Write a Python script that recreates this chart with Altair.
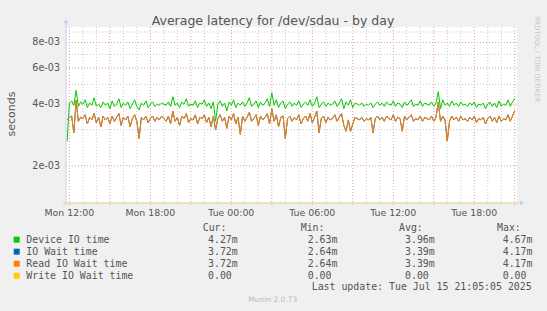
import altair as alt
import pandas as pd

# ---------------- data ----------------
START = "2025-07-14 11:50:00"   # first sample, 10-minute steps

device_io_ms = [
    2.63, 4.05, 4.15, 3.95, 4.67, 3.90, 4.10, 4.00, 4.20, 3.85, 4.05, 3.95, 4.30, 3.90, 4.00, 3.85, 4.10, 3.95, 4.05, 3.80,
    4.15, 3.90, 4.00, 4.25, 3.85, 4.05, 3.95, 4.10, 3.80, 4.00, 4.20, 3.90, 3.75, 4.05, 3.95, 4.15, 3.85, 4.00, 4.10, 3.90,
    4.00, 3.95, 4.05, 4.00, 3.95, 4.10, 3.90, 4.35, 3.95, 4.05, 3.85, 4.10, 4.00, 4.25, 3.90, 4.00, 3.95, 4.15, 3.85, 4.05,
    4.00, 4.20, 3.90, 4.05, 3.80, 4.10, 3.30, 4.00, 4.15, 3.90, 4.05, 3.70, 4.10, 3.95, 4.20, 3.85, 4.05, 3.95, 4.10, 3.90,
    4.05, 4.30, 3.90, 4.00, 4.15, 3.85, 4.10, 3.95, 4.05, 4.25, 3.90, 4.55, 3.95, 4.20, 3.85, 4.05, 4.15, 3.80, 4.00, 4.10,
    3.90, 4.05, 3.95, 4.15, 3.85, 4.00, 4.10, 3.95, 4.20, 3.90, 4.05, 4.35, 3.85, 4.00, 4.10, 3.90, 4.05, 3.95, 4.00, 4.15,
    3.90, 4.05, 4.25, 3.80, 4.10, 3.95, 4.20, 3.85, 4.05, 4.00, 3.95, 4.05, 3.90, 4.00, 3.95, 4.05, 3.85, 4.00, 4.10, 3.95,
    4.05, 3.90, 4.10, 4.00, 3.95, 4.15, 3.90, 4.05, 4.00, 3.85, 4.10, 3.95, 4.05, 4.20, 3.90, 4.00, 3.95, 4.15, 3.90, 4.05,
    4.00, 3.95, 4.10, 3.90, 4.05, 4.60, 3.80, 4.20, 3.95, 4.05, 3.90, 4.15, 3.95, 4.05, 3.90, 4.10, 3.95, 4.00, 3.90, 4.05,
    3.95, 4.10, 3.85, 4.00, 3.95, 4.05, 3.80, 4.00, 4.10, 3.90, 4.05, 3.85, 4.15, 3.90, 4.00, 3.95, 4.20, 3.90, 4.10, 4.27,
]

read_io_ms = [
    3.35, 3.45, 3.50, 2.90, 4.17, 3.30, 3.45, 3.40, 3.55, 3.20, 3.45, 3.35, 3.60, 3.25, 3.45, 3.10, 3.50, 3.35, 3.45, 3.20,
    3.50, 3.30, 3.45, 3.60, 3.15, 3.45, 3.35, 3.50, 3.10, 3.40, 3.55, 3.30, 2.72, 3.45, 3.35, 3.50, 3.25, 3.40, 3.50, 3.30,
    3.45, 3.35, 3.50, 3.40, 3.30, 3.50, 3.20, 3.70, 3.30, 3.45, 3.15, 3.50, 3.40, 3.60, 3.25, 3.40, 3.35, 3.55, 3.20, 3.45,
    3.40, 3.55, 3.25, 3.45, 3.10, 3.50, 3.00, 3.40, 3.55, 3.30, 3.45, 3.05, 3.50, 3.35, 3.60, 3.20, 3.45, 2.85, 3.50, 3.30,
    3.45, 3.65, 3.30, 3.40, 3.55, 3.15, 3.50, 3.35, 3.45, 3.60, 3.20, 3.80, 3.30, 3.55, 3.10, 3.45, 3.50, 2.72, 3.40, 3.50,
    3.30, 3.45, 3.35, 3.55, 3.20, 3.40, 3.50, 3.30, 3.60, 3.25, 3.45, 3.70, 2.90, 3.40, 3.50, 3.25, 3.45, 3.35, 3.40, 3.55,
    3.30, 3.45, 3.60, 3.15, 2.95, 3.35, 2.95, 3.20, 3.45, 3.40, 3.35, 3.45, 3.30, 3.40, 3.35, 3.45, 2.90, 3.40, 3.50, 3.35,
    3.45, 3.30, 3.50, 3.40, 3.35, 3.55, 3.30, 3.45, 3.40, 2.95, 3.50, 3.35, 3.45, 3.55, 3.30, 3.40, 3.35, 3.50, 3.30, 3.45,
    3.40, 3.35, 3.50, 3.30, 3.45, 4.10, 3.30, 3.50, 3.35, 2.64, 3.30, 3.50, 3.35, 3.45, 3.30, 3.50, 3.35, 3.40, 3.30, 3.45,
    3.35, 3.50, 3.25, 3.40, 3.35, 3.45, 3.20, 3.40, 3.50, 3.30, 3.45, 3.25, 3.50, 3.30, 3.40, 3.35, 3.55, 3.30, 3.50, 3.72,
]

io_wait_ms = list(read_io_ms)   # identical to Read IO Wait time

legend_labels = ["Device IO time", "IO Wait time", "Read IO Wait time", "Write IO Wait time"]
legend_colors = ["#00cc00", "#0066b3", "#ff8000", "#ffcc00"]
cur_vals = ["4.27m", "3.72m", "3.72m", "0.00"]
min_vals = ["2.63m", "2.64m", "2.64m", "0.00"]
avg_vals = ["3.96m", "3.39m", "3.39m", "0.00"]
max_vals = ["4.67m", "4.17m", "4.17m", "0.00"]
col_headers = ["Cur:", "Min:", "Avg:", "Max:"]

y_tick_values = [0.002, 0.004, 0.006, 0.008]
y_tick_labels = ["2e-03", "4e-03", "6e-03", "8e-03"]
y_minor_values = [0.003, 0.005, 0.007, 0.009]

x_label_times = ["2025-07-14T12:00:00Z", "2025-07-14T18:00:00Z", "2025-07-15T00:00:00Z",
                 "2025-07-15T06:00:00Z", "2025-07-15T12:00:00Z", "2025-07-15T18:00:00Z"]
x_labels = ["Mon 12:00", "Mon 18:00", "Tue 00:00", "Tue 06:00", "Tue 12:00", "Tue 18:00"]

title_text = "Average latency for /dev/sdau - by day"
last_update = "Last update: Tue Jul 15 21:05:05 2025"
version_text = "Munin 2.0.73"
side_text = "RRDTOOL / TOBI OETIKER"

# ---------------- build tables ----------------
times = pd.date_range(START, periods=len(device_io_ms), freq="10min").strftime("%Y-%m-%dT%H:%M:%SZ")
df_dev = pd.DataFrame({"t": times, "v": [x / 1000 for x in device_io_ms]})
df_wait = pd.DataFrame({"t": times, "v": [x / 1000 for x in io_wait_ms]})
df_read = pd.DataFrame({"t": times, "v": [x / 1000 for x in read_io_ms]})

hours = pd.date_range("2025-07-14 12:00", "2025-07-15 21:00", freq="1h")
df_vmin = pd.DataFrame({"t": [h.strftime("%Y-%m-%dT%H:%M:%SZ") for h in hours if h.hour % 3 != 0]})
df_vmaj = pd.DataFrame({"t": [h.strftime("%Y-%m-%dT%H:%M:%SZ") for h in hours if h.hour % 3 == 0]})
df_hmaj = pd.DataFrame({"v": y_tick_values, "lab": y_tick_labels})
df_hmin = pd.DataFrame({"v": y_minor_values})
df_xlab = pd.DataFrame({"t": x_label_times, "lab": x_labels})
one = pd.DataFrame({"k": [0]})

W, H = 451, 176
FONT = "DejaVu Sans"
MONO = "DejaVu Sans Mono"
TXT = "#555555"

xs = alt.Scale(type="utc",
               domain=[alt.DateTime(year=2025, month=7, date=14, hours=11, minutes=45, utc=True),
                       alt.DateTime(year=2025, month=7, date=15, hours=21, minutes=10, utc=True)])
ys = alt.Scale(type="log", domain=[0.001317, 0.00952], nice=False)

X = alt.X("t:T", scale=xs, axis=None, title=None)
Y = alt.Y("v:Q", scale=ys, axis=None, title=None)

layers = []
# grid
layers.append(alt.Chart(df_hmin).mark_rule(color="#c8c8c8", strokeDash=[1, 2], strokeWidth=1)
              .encode(y=Y))
layers.append(alt.Chart(df_vmin).mark_rule(color="#c8c8c8", strokeDash=[1, 2], strokeWidth=1)
              .encode(x=X))
layers.append(alt.Chart(df_hmaj).mark_rule(color="#e69a9a", strokeDash=[1, 2], strokeWidth=1)
              .encode(y=Y))
layers.append(alt.Chart(df_vmaj).mark_rule(color="#e69a9a", strokeDash=[1, 2], strokeWidth=1)
              .encode(x=X, y=alt.value(0), y2=alt.value(H + 3)))

# series
layers.append(alt.Chart(df_dev).mark_line(color="#00cc00", strokeWidth=1, clip=True).encode(x=X, y=Y))
layers.append(alt.Chart(df_wait).mark_line(color="#0066b3", strokeWidth=1, clip=True).encode(x=X, y=Y))
layers.append(alt.Chart(df_read).mark_line(color="#ff8000", strokeWidth=1, opacity=1, clip=True).encode(x=X, y=Y))

# axes lines + arrows
layers.append(alt.Chart(one).mark_rule(color="#d8cc8a", strokeWidth=1)
              .encode(x=alt.value(-3), x2=alt.value(W + 2), y=alt.value(H)))
layers.append(alt.Chart(one).mark_rule(color="#ccd0ee", strokeWidth=1)
              .encode(x=alt.value(0), y=alt.value(-4), y2=alt.value(H + 3)))
layers.append(alt.Chart(one).mark_point(shape="triangle-up", filled=True, size=22, color="#c4ccf4", opacity=1)
              .encode(x=alt.value(0), y=alt.value(-6)))
layers.append(alt.Chart(one).mark_point(shape="triangle-right", filled=True, size=22, color="#c4ccf4", opacity=1)
              .encode(x=alt.value(W + 5), y=alt.value(H)))

# tick labels
layers.append(alt.Chart(df_hmaj).mark_text(align="right", baseline="middle", font=FONT, fontSize=9.6, color=TXT)
              .encode(y=Y, x=alt.value(-6), text="lab:N"))
layers.append(alt.Chart(df_xlab).mark_text(align="center", baseline="middle", font=FONT, fontSize=9.4, color=TXT)
              .encode(x=X, y=alt.value(H + 9.5), text="lab:N"))

# titles
layers.append(alt.Chart(one).mark_text(text=title_text, align="center", baseline="middle", font=FONT,
                                       fontSize=12.5, color=TXT)
              .encode(x=alt.value(207), y=alt.value(-6)))
layers.append(alt.Chart(one).mark_text(text="seconds", align="center", baseline="middle", font=FONT,
                                       fontSize=11, color=TXT, angle=270)
              .encode(x=alt.value(-54.5), y=alt.value(87)))
layers.append(alt.Chart(one).mark_text(text=side_text, align="center", baseline="middle", font=FONT,
                                       fontSize=6.7, color="#c4c4c4", angle=90)
              .encode(x=alt.value(471), y=alt.value(32)))

# legend
row_y = [212.7, 224.7, 236.7, 248.7]
val_x = [142, 241.7, 339, 436.7]
hdr_x = [136.7, 234.7, 333, 431]
for hx, h in zip(hdr_x, col_headers):
    layers.append(alt.Chart(one).mark_text(text=h, align="left", baseline="middle", font=MONO,
                                           fontSize=9.9, color=TXT)
                  .encode(x=alt.value(hx), y=alt.value(200.7)))
for i, lab in enumerate(legend_labels):
    yy = row_y[i]
    layers.append(alt.Chart(one).mark_square(size=36, color=legend_colors[i], opacity=1)
                  .encode(x=alt.value(-49.3), y=alt.value(yy)))
    layers.append(alt.Chart(one).mark_text(text=lab, align="left", baseline="middle", font=MONO,
                                           fontSize=9.9, color=TXT)
                  .encode(x=alt.value(-39.7), y=alt.value(yy)))
    for vx, vals in zip(val_x, [cur_vals, min_vals, avg_vals, max_vals]):
        layers.append(alt.Chart(one).mark_text(text=vals[i], align="left", baseline="middle", font=MONO,
                                               fontSize=9.9, color=TXT)
                      .encode(x=alt.value(vx), y=alt.value(yy)))

layers.append(alt.Chart(one).mark_text(text=last_update, align="left", baseline="middle", font=MONO,
                                       fontSize=9.9, color=TXT)
              .encode(x=alt.value(245.7), y=alt.value(260.3)))
layers.append(alt.Chart(one).mark_text(text=version_text, align="center", baseline="middle", font=FONT,
                                       fontSize=7.5, color="#bbbbbb")
              .encode(x=alt.value(206.8), y=alt.value(273)))

chart = alt.layer(*layers).properties(
    width=W, height=H,
    autosize=alt.AutoSizeParams(type="none"),
    padding={"left": 66, "top": 27, "right": 30, "bottom": 108},
    background="#f0f0f0",
).configure_view(fill="white", stroke=None)

chart.save("out.html", embed_options={"renderer": "svg", "actions": False})
